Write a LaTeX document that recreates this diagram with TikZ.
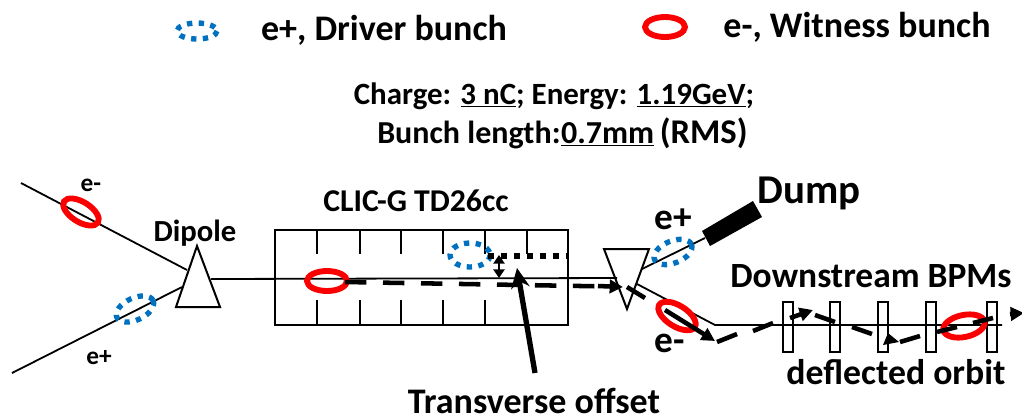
\documentclass[tikz,border=0pt]{standalone}
\usepackage{fontspec}
\setmainfont{Carlito}[BoldFont={Carlito Bold}]
\usetikzlibrary{arrows.meta}
\definecolor{bluebunch}{RGB}{0,112,192}
\definecolor{redbunch}{RGB}{250,0,0}
\newcommand{\fs}[1]{\fontsize{#1}{#1}\selectfont\bfseries}
\tikzset{
  x=0.75pt,y=-0.75pt,
  lbl/.style={inner sep=0pt,text=black,anchor=center},
  beam/.style={line width=1.35pt,black},
  thin tick/.style={line width=0.9pt,black},
  box/.style={line width=1.4pt,black},
  bpm/.style={line width=1.2pt,black},
  offs/.style={line width=3.4pt,black},
}
\newcommand{\redb}[4]{\draw[redbunch,line width=4.4pt,rotate around={#4:(#1)}] (#1) ellipse [x radius=#2,y radius=#3];}
\newcommand{\blueb}[4]{\draw[bluebunch,line width=4pt,dash pattern=on 4pt off 4.8pt,rotate around={#4:(#1)}] (#1) ellipse [x radius=#2,y radius=#3];}
\begin{document}
\begin{tikzpicture}
\useasboundingbox (0,0) rectangle (1022,419);
\coordinate (ein) at (21,183); \coordinate (eend) at (187,270);
\coordinate (pin) at (12,373); \coordinate (pend) at (182,287);
\draw[beam] (ein)--(eend);
\draw[beam] (pin)--(pend);
\draw[box] (275,230) rectangle (568,325);
\foreach \x in {317,360,401,443,485,527} \draw[thin tick] (\x,230)--(\x,254);
\foreach \x in {317,360,401,443,485} \draw[thin tick] (\x,300)--(\x,325);
\draw[beam] (211,279)--(617,278);
\draw[line width=1.5pt] (197,246)--(220,307)--(176,307)--cycle;
\draw[line width=1.5pt] (604,249)--(649,249)--(627,309)--cycle;
\draw[beam] (642,269)--(705,238);
\draw[beam] (637,284)--(715,325)--(1002,325);
\fill (702,231)--(753,201)--(762,217)--(710,246)--cycle;
\foreach \x in {783,830,878,926,987} \draw[bpm] (\x,302) rectangle (\x+10,352);
\redb{81,212}{20}{10}{-32}
\blueb{135,309}{20}{11}{25}
\redb{327,281}{20}{10}{0}
\blueb{470,255}{20}{12}{0}
\blueb{673,252}{20}{11}{22}
\redb{677,316}{21}{10.5}{-32}
\redb{964,326}{21}{11}{12}
\blueb{197,31}{20}{8}{0}
\redb{665,27}{20}{10}{0}
\draw[line width=3.8pt,dash pattern=on 4.5pt off 5.2pt] (488,256)--(568,256);
\draw[line width=1.2pt,{Triangle[length=6.5pt,width=8.5pt]}-{Triangle[length=6.5pt,width=8.5pt]}] (499,255)--(499,278);
\draw[line width=4pt,-{Stealth[length=15pt,width=14pt,inset=5pt]}] (535,373)--(517,268);
\draw[offs,dash pattern=on 16pt off 12.5pt] (345,282)--(610,286.5);
\draw[offs,-{Triangle[length=10pt,width=10pt]}] (598,286)--(623,287);
\draw[offs] (627,287)--(645,298);
\draw[offs,-{Triangle[length=10pt,width=10pt]}] (665,310)--(715,341);
\draw[offs] (717,342)--(737,334);
\draw[offs] (753,331)--(773,323);
\draw[offs,-{Triangle[length=10pt,width=10pt]}] (790,318)--(813,310);
\draw[offs] (815,315)--(835,322);
\draw[offs] (852,327)--(872,334);
\fill (888,333)--(899,342)--(883,345)--cycle;
\draw[offs] (900,342)--(920,336);
\draw[offs] (937,332)--(957,327);
\draw[offs] (973,323)--(993,318);
\draw[offs,-{Triangle[length=10pt,width=10pt]}] (1010,314)--(1024,313);
\node[lbl] (t1) at (384,30) {\fs{27}e+, Driver bunch};
\node[lbl] (t2) at (857,27) {\fs{27}e-, Witness bunch};
\node[lbl] (t3) at (554,96) {\fs{23.2}Charge: \underline{3 nC}; Energy: \underline{1.19GeV};};
\node[lbl,anchor=west] (t4) at (377,133) {\fs{24}Bunch length:\kern0.02em\underline{0.7mm}\kern-0.05em\ {\fontsize{26}{26}\selectfont (RMS)}};
\node[lbl] (t5) at (91,185) {\fs{19}e-};
\node[lbl] (t6) at (99,358) {\fs{19}e+};
\node[lbl] (t7) at (195,233) {\fs{23}Dipole};
\node[lbl] (t8) at (416,201) {\fs{23.8}CLIC-G TD26cc};
\node[lbl] (t9) at (809,193) {\fs{30.7}Dump};
\node[lbl] (t10) at (673,219) {\fs{28}e+};
\node[lbl] (t11) at (670,343) {\fs{28}e-};
\node[lbl] (t12) at (871,276) {\fs{26.6}Downstream BPMs};
\node[lbl] (t13) at (896,372) {\fs{26.8}deflected orbit};
\node[lbl] (t14) at (534,401) {\fs{27}Transverse offset};
\end{tikzpicture}
\end{document}
